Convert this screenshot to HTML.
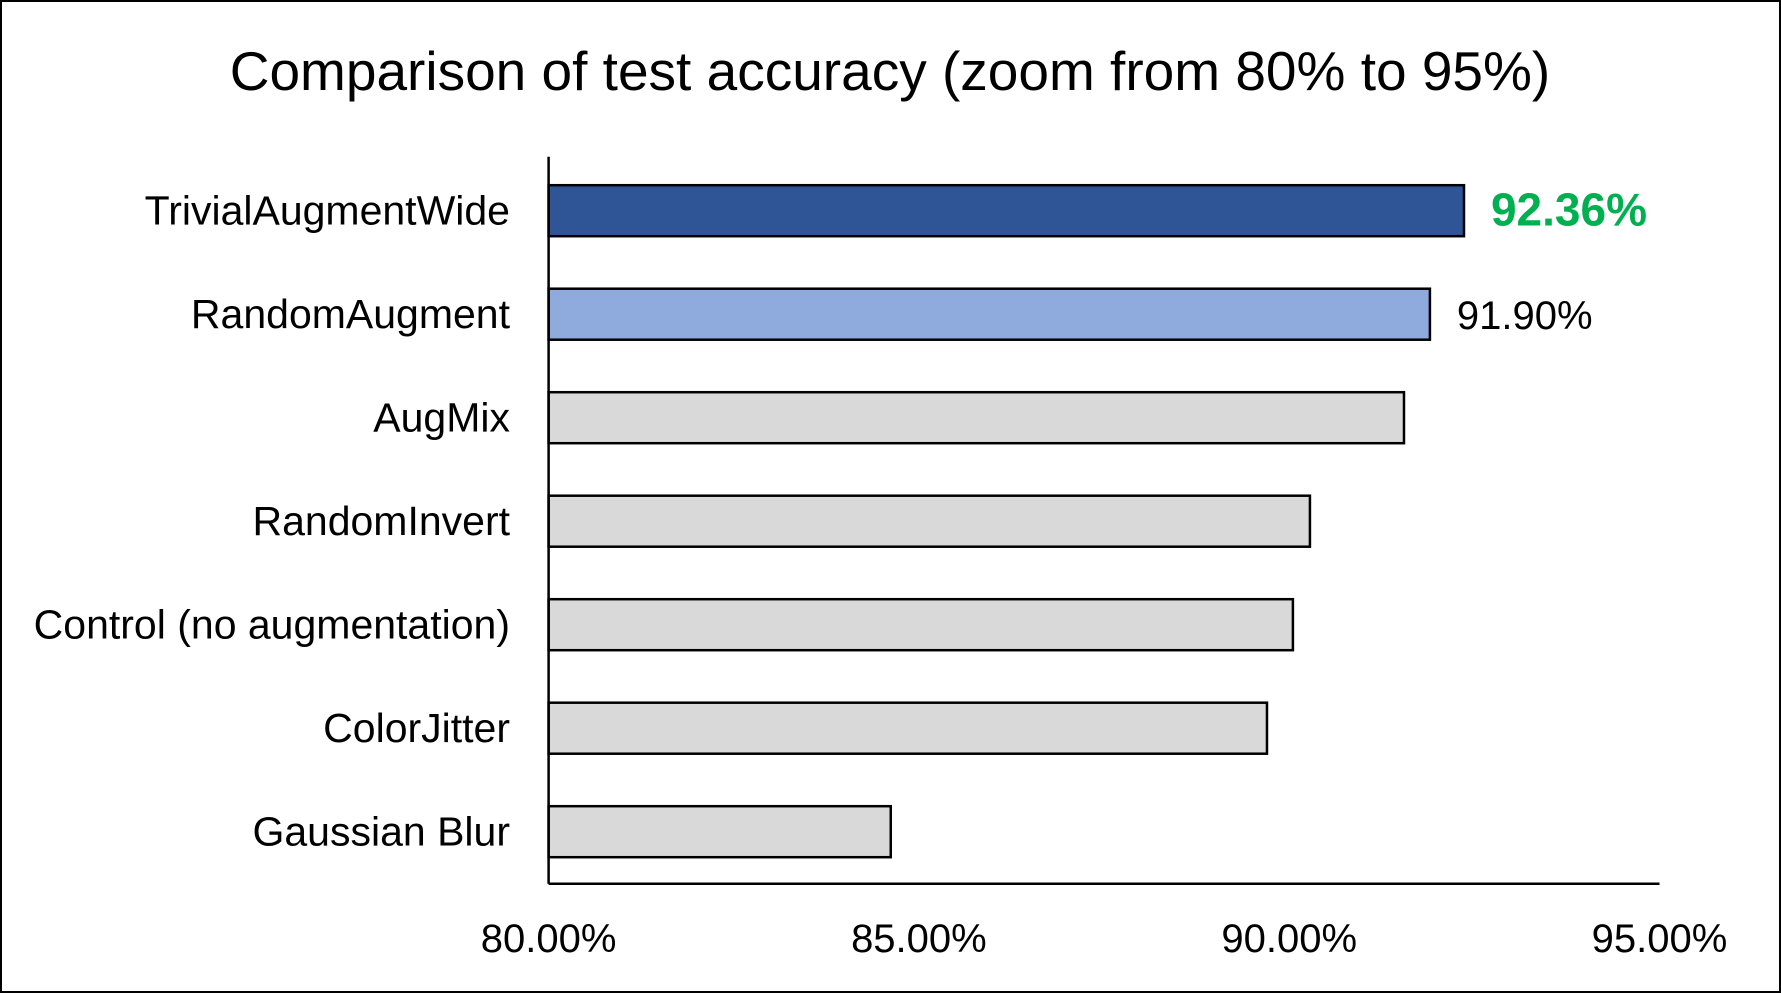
<!DOCTYPE html>
<html><head><meta charset="utf-8"><style>
html,body{margin:0;padding:0;background:#fff;}
svg{display:block;font-family:"Liberation Sans",Arial,sans-serif;}
</style></head><body>
<svg id="chart" width="1781" height="993" viewBox="0 0 1781 993">
<rect x="1" y="1" width="1779" height="991" fill="#fff" stroke="#000" stroke-width="2"/>
<text x="890" y="90" font-size="55" text-anchor="middle">Comparison of test accuracy (zoom from 80% to 95%)</text>
<g id="plot"></g>
</svg>
<script>
const categories=["TrivialAugmentWide","RandomAugment","AugMix","RandomInvert","Control (no augmentation)","ColorJitter","Gaussian Blur"];
const values=[92.36,91.90,91.55,90.28,90.05,89.70,84.62];
const tickValues=[80,85,90,95];
const tickLabels=["80.00%","85.00%","90.00%","95.00%"];
const barColors=["#2F5597","#8FAADC","#D9D9D9","#D9D9D9","#D9D9D9","#D9D9D9","#D9D9D9"];
const NS="http://www.w3.org/2000/svg";
const g=document.getElementById('plot');
const x0=548.6,pxPer=370.3/5,xMin=80;
const xs=v=>x0+(v-xMin)*pxPer;
const yTop=156.7,yBot=883.7,firstC=210.7,step=103.5,bh=51;
const yc=i=>firstC+i*step;
function el(t,a){const e=document.createElementNS(NS,t);for(const k in a)e.setAttribute(k,a[k]);g.appendChild(e);return e;}
categories.forEach((c,i)=>{
  const r=el('rect',{x:xs(xMin),y:yc(i)-bh/2,width:xs(values[i])-xs(xMin),height:bh,fill:barColors[i],stroke:'#000','stroke-width':2.5});
  
  
  const t=el('text',{x:510,y:yc(i)+14,'font-size':41,'text-anchor':'end'});
  t.textContent=c;
  
  
});
[0,1].forEach(i=>{
  const t=el('text',{x:xs(values[i])+27,y:yc(i)+15,'font-size':i==0?46:40,'font-weight':i==0?'bold':'normal',fill:i==0?'#00B050':'#000'});
  t.textContent=values[i].toFixed(2)+'%';
  
  
});
const ya=el('line',{x1:x0,y1:yTop,x2:x0,y2:yBot,stroke:'#000','stroke-width':2.5});


const xa=el('line',{x1:x0,y1:yBot,x2:xs(95),y2:yBot,stroke:'#000','stroke-width':2.5});


tickValues.forEach((v,i)=>{
  const t=el('text',{x:xs(v),y:952,'font-size':40,'text-anchor':'middle'});
  t.textContent=tickLabels[i];
  
  
});
</script>
</body></html>
